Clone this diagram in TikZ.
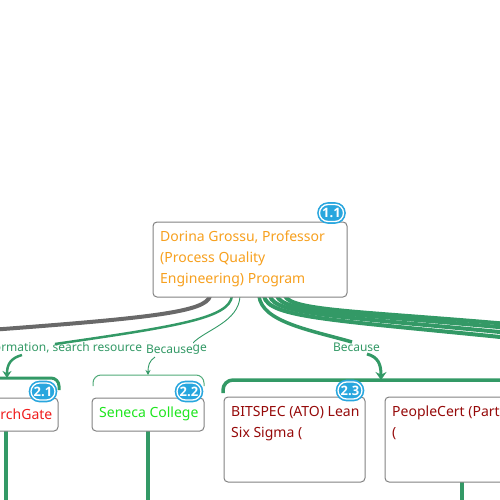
\documentclass[tikz,border=0pt]{standalone}
\usepackage{fontspec}
\setmainfont{Noto Sans}
\newfontfamily\bdgfont{Open Sans}
\usetikzlibrary{arrows.meta}
\definecolor{lk}{RGB}{51,153,102}
\definecolor{lkl}{RGB}{80,170,120}
\definecolor{bdr}{RGB}{130,130,130}
\definecolor{bb}{RGB}{40,166,222}
\definecolor{orng}{RGB}{247,160,30}
\definecolor{rd}{RGB}{240,30,30}
\definecolor{gr}{RGB}{30,230,30}
\definecolor{drd}{RGB}{150,10,10}
\definecolor{gline}{RGB}{105,105,105}
\tikzset{
  topic/.style={draw=bdr, line width=1pt, rounded corners=4pt, fill=white, inner sep=0pt},
  ttext/.style={font=\fontsize{14}{21}\selectfont, align=left, anchor=north west, inner sep=0pt},
  lbl/.style={font=\fontsize{12}{13}\selectfont, text=lk, inner sep=0.5pt},
  badge/.style={rectangle, rounded corners=8.5pt, minimum width=24pt, minimum height=17pt,
     inner sep=0pt, fill=bb, draw=white, line width=1.3pt, text=white,
     preaction={draw=bb, line width=4.6pt},
     font=\bdgfont\fontsize{13}{13}\selectfont\bfseries},
  conn/.style={lk, line width=4pt},
  vline/.style={lk, line width=4.5pt},
}
\begin{document}
\begin{tikzpicture}[x=1pt,y=-1pt]
\useasboundingbox (0,0) rectangle (500,500);
\begin{scope}
\clip (0,0) rectangle (500,500);
% connectors from main node
\draw[gline, line width=4pt] (210,296) .. controls (206,312) and (150,318) .. (-10,330);
\draw[lk, line width=2.5pt] (232,296) .. controls (229,318) and (180,326) .. (55,344);
\draw[lk, line width=0.9pt] (240,296) .. controls (239,322) and (205,330) .. (193,343);
\draw[conn] (285,296) .. controls (292,311) and (360,311) .. (520,325);
\draw[conn] (277,296) .. controls (283,313) and (350,313) .. (520,329);
\draw[conn] (270,296) .. controls (275,315) and (340,316) .. (520,334);
\draw[conn] (264,296) .. controls (268,318) and (335,320) .. (520,339);
\draw[lk, line width=3.5pt] (259,296) .. controls (262,322) and (310,330) .. (352,342);
% labels
\node[lbl, anchor=east, inner sep=0pt] (l1) at (207,348) {Information, search resource knowledge};
\node[lbl, fill=white, inner xsep=0.3pt, inner ysep=3pt] (l2) at (169.5,349.5) {Because};
\node[lbl] (l3) at (356.5,347) {Because};
% arrows
\draw[lk, line width=2.5pt, -{Stealth[length=7pt,width=9pt]}] (22,355) .. controls (11,358) and (7,364) .. (7,378);
\draw[lk, line width=0.9pt, -{Stealth[length=5pt,width=5pt]}] (155,357) .. controls (149,361) and (148,366) .. (148,375);
\draw[lk, line width=3pt, -{Stealth[length=8pt,width=11pt]}] (367,354) .. controls (378,357) and (381,364) .. (381,380);
% brackets
\draw[lk, line width=3pt, rounded corners=8pt] (-10,378) -- (59,378) -- (59,390);
\draw[lkl, line width=1pt, rounded corners=8pt] (93,386) -- (93,375) -- (204,375) -- (204,386);
\draw[lk, line width=3.5pt, rounded corners=10pt] (223,393) -- (223,380) -- (510,380);
% vertical lines
\draw[vline] (6,430) -- (6,505);
\draw[vline] (148,430) -- (148,505);
\draw[vline] (462,481) -- (462,505);
% nodes
\node[topic, minimum width=194pt, minimum height=75pt] (main) at (250,259.5) {};
\node[ttext, text=orng] (mt) at (160,231) {Dorina Grossu, Professor\\(Process Quality\\Engineering) Program};
\node[topic, minimum width=104pt, minimum height=33pt] (n21) at (6,414.5) {};
\node[anchor=east, inner sep=0pt, text=rd, font=\fontsize{14}{20.5}\selectfont] (t21) at (52.5,414) {ResearchGate};
\node[topic, minimum width=112pt, minimum height=33pt] (n22) at (148,414.5) {};
\node[anchor=west, inner sep=0pt, text=gr, font=\fontsize{14}{20.5}\selectfont] (t22) at (99,414) {Seneca College};
\node[topic, minimum width=141pt, minimum height=85pt] (n23) at (294.5,439.5) {};
\node[ttext, text=drd] (t23) at (231,406) {BITSPEC (ATO) Lean\\Six Sigma (};
\node[topic, minimum width=154pt, minimum height=85pt] (n24) at (462,439.5) {};
\node[ttext, text=drd] (t24) at (392,406) {PeopleCert (Partner)\\(};
% badges
\node[badge] (b11) at (331.5,213) {1.1};
\node[badge] (b21) at (43,391.5) {2.1};
\node[badge] (b22) at (189,391.5) {2.2};
\node[badge] (b23) at (350,390.5) {2.3};
\end{scope}
\end{tikzpicture}
\end{document}
